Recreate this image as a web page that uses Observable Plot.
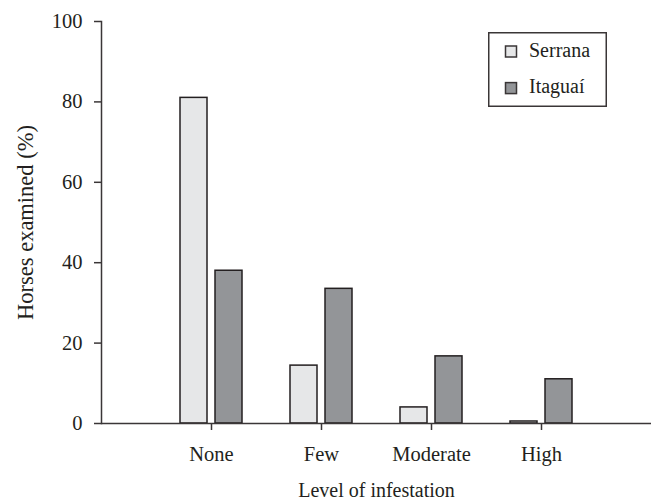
<!DOCTYPE html>
<html>
<head>
<meta charset="utf-8">
<script src="https://cdn.jsdelivr.net/npm/d3@7"></script>
<script src="https://cdn.jsdelivr.net/npm/@observablehq/plot@0.6"></script>
<style>
  html, body { margin: 0; padding: 0; background: #fff; }
  #wrap { position: relative; width: 655px; height: 501px; font-family: "Liberation Serif", serif; }
  #legend { position: absolute; left: 488px; top: 32px; }
</style>
</head>
<body>
<div id="wrap"><div id="chart"></div><div id="legend"></div></div>
<script>
const categories = ["None", "Few", "Moderate", "High"];
const seriesNames = ["Serrana", "Itaguaí"];
const serrana = [81.0, 14.4, 4.0, 0.5];
const itaguai = [38.0, 33.5, 16.7, 11.0];
const yTicks = [0, 20, 40, 60, 80, 100];
const seriesColors = ["#e6e7e8", "#939598"];

const rows = categories.flatMap((c, i) => [
  {category: c, series: seriesNames[0], value: serrana[i]},
  {category: c, series: seriesNames[1], value: itaguai[i]}
]);

const ink = "#3a3637";
const barOpts = (s, dx) => ({
  x: "category", y: "value", fill: "series",
  stroke: "#231f20", strokeWidth: 1.5,
  insetLeft: 41.5, insetRight: 41.5, dx,
  filter: d => d.series === s
});

const chart = Plot.plot({
  width: 655, height: 501,
  marginLeft: 101, marginRight: 4, marginTop: 21, marginBottom: 78,
  style: {fontFamily: "Liberation Serif, serif", fontSize: "20.5px", color: "#231f20", background: "#fff"},
  x: {type: "band", domain: categories, paddingInner: 0, paddingOuter: 0.5, align: 0.5},
  y: {domain: [0, 100]},
  color: {domain: seriesNames, range: seriesColors},
  marks: [
    Plot.barY(rows, barOpts(seriesNames[0], -17.5)),
    Plot.barY(rows, barOpts(seriesNames[1], 17.5)),
    Plot.ruleY([0], {stroke: ink, strokeWidth: 1.5}),
    Plot.frame({anchor: "left", stroke: ink, strokeWidth: 1.5}),
    Plot.axisY({ticks: yTicks, tickSize: 7, tickPadding: 12, stroke: ink, strokeWidth: 1.5, label: null}),
    Plot.axisY({ticks: [], label: "Horses examined (%)", labelAnchor: "center", labelOffset: 84,
      labelArrow: "none", fontSize: 22.5}),
    Plot.axisX({tickSize: 7, tickPadding: 16, stroke: ink, strokeWidth: 1.5, label: null}),
    Plot.axisX({ticks: [], label: "Level of infestation", labelAnchor: "center", labelOffset: 73,
      labelArrow: "none", fontSize: 20})
  ]
});
document.getElementById("chart").appendChild(chart);

// legend drawn inside the plot area, colours taken from the chart's color scale
const color = chart.scale("color");
const lw = 119, lh = 75;
const lsvg = d3.select("#legend").append("svg")
  .attr("width", lw).attr("height", lh)
  .style("font-family", "Liberation Serif, serif").style("font-size", "20px");
lsvg.append("rect").attr("x", 0.75).attr("y", 0.75).attr("width", lw - 1.5).attr("height", lh - 1.5)
  .attr("fill", "#fff").attr("stroke", ink).attr("stroke-width", 1.5);
seriesNames.forEach((s, i) => {
  const top = 14 + i * 36.6;
  lsvg.append("rect").attr("x", 17.5).attr("y", top).attr("width", 11).attr("height", 11)
    .attr("fill", color.apply(s)).attr("stroke", ink).attr("stroke-width", 1.5);
  lsvg.append("text").attr("x", 41).attr("y", top + 10.7).attr("fill", "#231f20").text(s);
});
</script>
</body>
</html>
